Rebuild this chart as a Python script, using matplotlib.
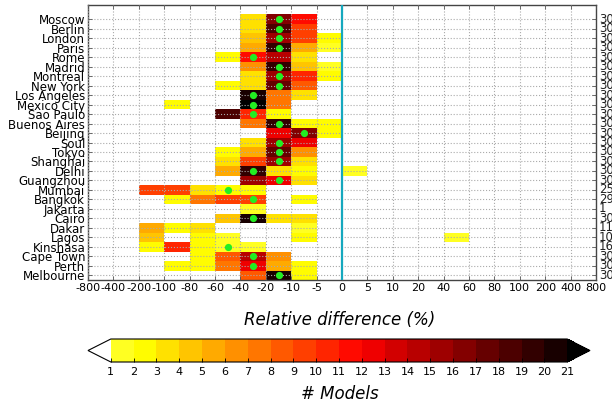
import numpy as np
import matplotlib
matplotlib.use("Agg")
import matplotlib.pyplot as plt
from matplotlib.colors import ListedColormap, BoundaryNorm
from matplotlib.cm import ScalarMappable
import matplotlib.transforms as mtransforms

plt.rcParams['font.family'] = ['DejaVu Sans']
plt.rcParams['axes.unicode_minus'] = False

cities = ["Moscow", "Berlin", "London", "Paris", "Rome", "Madrid", "Montreal",
          "New York", "Los Angeles", "Mexico City", "Sao Paulo", "Buenos Aires",
          "Beijing", "Soul", "Tokyo", "Shanghai", "Delhi", "Guangzhou", "Mumbai",
          "Bangkok", "Jakarta", "Cairo", "Dakar", "Lagos", "Kinshasa",
          "Cape Town", "Perth", "Melbourne"]

bin_edge_labels = ["-800", "-400", "-200", "-100", "-80", "-60", "-40", "-20",
                   "-10", "-5", "0", "5", "10", "20", "40", "60", "80", "100",
                   "200", "400", "800"]

n_models = [30, 30, 30, 30, 30, 30, 30, 30, 30, 30, 30, 30, 30, 30, 30, 30, 30,
            30, 25, 29, 1, 30, 11, 10, 16, 30, 30, 30]

# model counts per relative-difference bin (bins between consecutive edges)
counts_moscow      = [0, 0, 0, 0, 0, 0, 3, 16, 11, 0]
counts_berlin      = [0, 0, 0, 0, 0, 0, 3, 18, 9, 0]
counts_london      = [0, 0, 0, 0, 0, 0, 4, 15, 9, 2]
counts_paris       = [0, 0, 0, 0, 0, 0, 5, 19, 5, 1]
counts_rome        = [0, 0, 0, 0, 0, 2, 11, 14, 3, 0]
counts_madrid      = [0, 0, 0, 0, 0, 0, 6, 19, 4, 1]
counts_montreal    = [0, 0, 0, 0, 0, 0, 3, 15, 10, 2]
counts_newyork     = [0, 0, 0, 0, 0, 2, 3, 17, 8, 0]
counts_losangeles  = [0, 0, 0, 0, 0, 0, 20, 7, 3, 0]
counts_mexicocity  = [0, 0, 0, 2, 0, 0, 21, 7, 0, 0]
counts_saopaulo    = [0, 0, 0, 0, 0, 18, 10, 2, 0, 0]
counts_buenosaires = [0, 0, 0, 0, 0, 0, 7, 19, 2, 2]
counts_beijing     = [0, 0, 0, 0, 0, 0, 0, 12, 16, 2]
counts_soul        = [0, 0, 0, 0, 0, 0, 3, 15, 12, 0]
counts_tokyo       = [0, 0, 0, 0, 0, 2, 5, 17, 6, 0]
counts_shanghai    = [0, 0, 0, 0, 0, 3, 9, 15, 3, 0]
counts_delhi       = [0, 0, 0, 0, 0, 5, 19, 3, 2, 0, 1]
counts_guangzhou   = [0, 0, 0, 0, 0, 0, 15, 12, 3, 0]
counts_mumbai      = [0, 0, 9, 9, 3, 2, 2, 0, 0, 0]
counts_bangkok     = [0, 0, 0, 2, 7, 9, 9, 0, 2, 0]
counts_jakarta     = [0, 0, 0, 0, 0, 0, 1, 0, 0, 0]
counts_cairo       = [0, 0, 0, 0, 0, 4, 20, 3, 3, 0]
counts_dakar       = [0, 0, 5, 2, 3, 0, 0, 0, 1, 0]
counts_lagos       = [0, 0, 4, 0, 2, 1, 0, 0, 2, 0, 0, 0, 0, 0, 1]
counts_kinshasa    = [0, 0, 2, 10, 2, 1, 1, 0, 0, 0]
counts_capetown    = [0, 0, 0, 0, 2, 8, 14, 6, 0, 0]
counts_perth       = [0, 0, 0, 2, 2, 7, 12, 5, 2, 0]
counts_melbourne   = [0, 0, 0, 0, 0, 0, 8, 20, 2, 0]

counts_rows = [counts_moscow, counts_berlin, counts_london, counts_paris,
               counts_rome, counts_madrid, counts_montreal, counts_newyork,
               counts_losangeles, counts_mexicocity, counts_saopaulo,
               counts_buenosaires, counts_beijing, counts_soul, counts_tokyo,
               counts_shanghai, counts_delhi, counts_guangzhou, counts_mumbai,
               counts_bangkok, counts_jakarta, counts_cairo, counts_dakar,
               counts_lagos, counts_kinshasa, counts_capetown, counts_perth,
               counts_melbourne]

# bin index of the ensemble marker (green dot); None = no marker
dot_bin = [7, 7, 7, 7, 6, 7, 7, 7, 6, 6, 6, 7, 8, 7, 7, 7, 6, 7, 5, 6, None,
           6, None, None, 5, 6, 6, 7]

levels = list(range(1, 22))

# ---------------------------------------------------------------------------
n_bins = len(bin_edge_labels) - 1
n = len(cities)
mat = np.zeros((n, n_bins))
for i, r in enumerate(counts_rows):
    mat[i, :len(r)] = r
data = np.ma.masked_equal(mat[::-1], 0)

base = plt.get_cmap('hot_r')
cmap = ListedColormap(base(np.linspace(0.22, 0.98, len(levels) - 1)))
cmap.set_under('white')
cmap.set_over('black')
norm = BoundaryNorm(levels, cmap.N)

W, H = 612, 407
fig = plt.figure(figsize=(W / 100, H / 100), dpi=100)
ax = fig.add_axes([88 / W, 1 - 280 / H, (596 - 88) / W, (280 - 5) / H])

ax.pcolormesh(np.arange(n_bins + 1), np.arange(n + 1) - 0.5, data,
              cmap=cmap, norm=norm, zorder=1)

ax.set_xlim(0, n_bins)
ax.set_ylim(-0.5, n + 0.5)
ax.set_xticks(range(n_bins + 1))
ax.set_xticklabels(bin_edge_labels, fontsize=8)
ax.set_yticks(range(n))
ax.set_yticklabels(cities[::-1], fontsize=8.5)
ax.tick_params(direction='in', top=True, right=True, length=3, width=0.6,
               pad=2, color='#555555')
ax.grid(True, ls=':', color='#aaaaaa', lw=0.8)
ax.set_axisbelow(False)
for s in ax.spines.values():
    s.set_color('#444444')
    s.set_linewidth(1.0)

zero_idx = bin_edge_labels.index("0")
ax.axvline(zero_idx, color='#15A8BE', lw=1.6, zorder=3)

for i, b in enumerate(dot_bin):
    if b is not None:
        ax.plot(b + 0.5, n - 1 - i, 'o', color='#22EE22', ms=5.2,
                mec='none', zorder=4)

trans = mtransforms.blended_transform_factory(ax.transAxes, ax.transData)
for i, m in enumerate(n_models):
    ax.text(1.006, n - 1 - i, str(m), transform=trans, fontsize=8.5,
            va='center', ha='left', color='#222222')

fig.text(340 / W, 1 - 320 / H, 'Relative difference (%)', style='italic',
         fontsize=12, ha='center', va='center')

# colorbar axes includes the extension triangles
cax = fig.add_axes([88 / W, 1 - 362 / H, (590 - 88) / W, 23 / H])
cb = fig.colorbar(ScalarMappable(norm=norm, cmap=cmap), cax=cax,
                  orientation='horizontal', extend='both', extendfrac=0.05,
                  ticks=levels)
cb.ax.tick_params(labelsize=8, direction='in', length=3, width=0.6)
cb.outline.set_linewidth(0.8)
fig.text(340 / W, 1 - 394 / H, '# Models', style='italic', fontsize=12,
         ha='center', va='center')

fig.savefig('out.png', dpi=100)
